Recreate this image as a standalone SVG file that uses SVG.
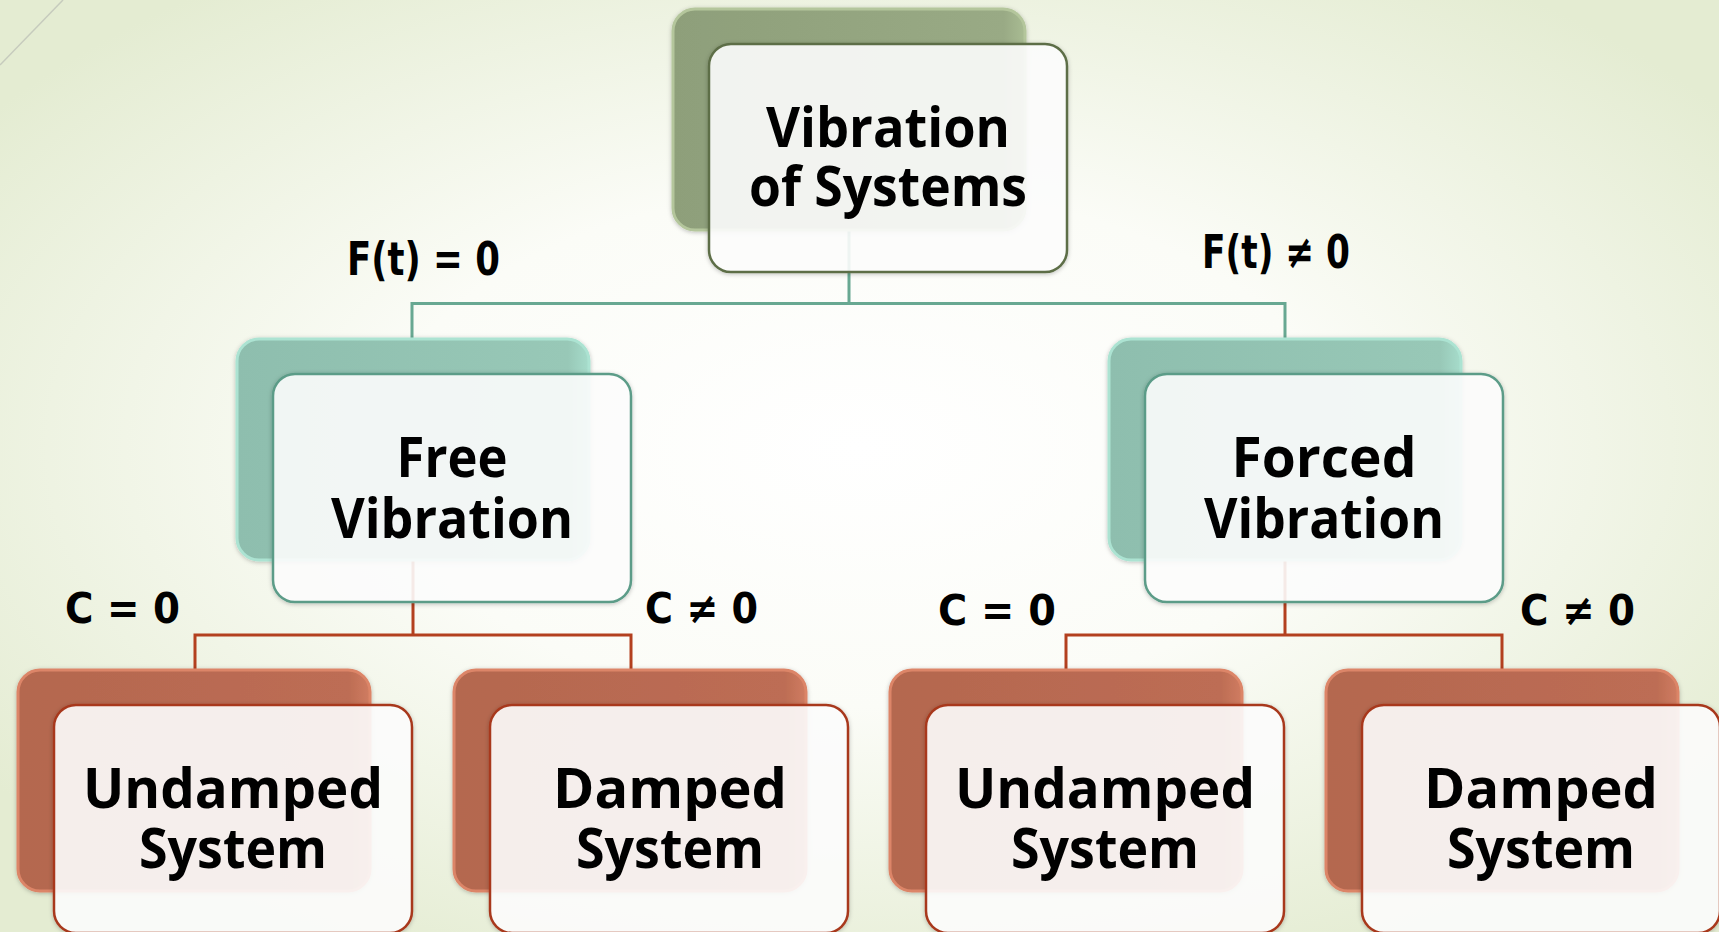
<svg xmlns="http://www.w3.org/2000/svg" width="1719" height="932" viewBox="0 0 1719 932">
<defs>
  <radialGradient id="bg" cx="50%" cy="48%" r="62%">
    <stop offset="0" stop-color="#ffffff"/>
    <stop offset="0.45" stop-color="#fbfcf7"/>
    <stop offset="1" stop-color="#e4ecd2"/>
  </radialGradient>
  <linearGradient id="gOlive" x1="0" y1="0" x2="1" y2="0">
    <stop offset="0" stop-color="#8e9f7a"/>
    <stop offset="0.94" stop-color="#99aa85"/>
    <stop offset="1" stop-color="#a9bc93"/>
  </linearGradient>
  <linearGradient id="gTeal" x1="0" y1="0" x2="1" y2="0">
    <stop offset="0" stop-color="#8ebeae"/>
    <stop offset="0.94" stop-color="#98c8b7"/>
    <stop offset="1" stop-color="#a6dccb"/>
  </linearGradient>
  <linearGradient id="gRed" x1="0" y1="0" x2="1" y2="0">
    <stop offset="0" stop-color="#b4674f"/>
    <stop offset="0.94" stop-color="#bd6d54"/>
    <stop offset="1" stop-color="#d07c61"/>
  </linearGradient>
  <filter id="sh" x="-10%" y="-10%" width="120%" height="120%">
    <feDropShadow dx="0" dy="1" stdDeviation="2" flood-color="#000" flood-opacity="0.25"/>
  </filter>
</defs>
<style>
  .back { filter: url(#sh); stroke-width: 3; }
  .olive .back { fill: url(#gOlive); stroke: #b4c69c; }
  .teal .back { fill: url(#gTeal); stroke: #ace3d2; }
  .red .back { fill: url(#gRed); stroke: #dc8568; }
  .front { fill: #ffffff; fill-opacity: 0.88; stroke-width: 2.5; filter: url(#sh); }
  .olive .front { stroke: #5d6e47; }
  .teal .front { stroke: #5c9c88; }
  .red .front { stroke: #a8391d; }
  .t { font-family: "Open Sans", "DejaVu Sans", sans-serif; font-weight: 700; font-size: 55px; fill: #000; text-anchor: middle; }
  .lbl { font-family: "DejaVu Sans", sans-serif; font-weight: 700; fill: #000; }
  .f { font-size: 47px; }
  .c { font-size: 43px; }
  .cg { fill: none; stroke: #68a892; stroke-width: 3; }
  .cr { fill: none; stroke: #b3401f; stroke-width: 3; }
</style>
<rect x="0" y="0" width="1719" height="932" fill="url(#bg)"/>
<line x1="0" y1="65" x2="63" y2="0" stroke="#c6cbbd" stroke-width="1.5"/>

<g id="connectors">
  <path class="cg" d="M849 230 V303.5 M412 339 V303.5 H1285 V339"/>
  <path class="cr" d="M413 560 V635 M195 670 V635 H631 V670"/>
  <path class="cr" d="M1285 560 V635 M1066 670 V635 H1502 V670"/>
</g>

<g id="node-vibration-of-systems" class="olive">
  <rect class="back" x="673" y="9" width="352" height="221" rx="22"/>
  <rect class="front" x="709" y="44" width="358" height="228" rx="22"/>
  <text class="t" x="888" y="147" textLength="244" lengthAdjust="spacingAndGlyphs">Vibration</text>
  <text class="t" x="888" y="206" textLength="278" lengthAdjust="spacingAndGlyphs">of Systems</text>
</g>

<g id="node-free-vibration" class="teal">
  <rect class="back" x="237" y="339" width="352" height="221" rx="22"/>
  <rect class="front" x="273" y="374" width="358" height="228" rx="22"/>
  <text class="t" x="452" y="477" textLength="111" lengthAdjust="spacingAndGlyphs">Free</text>
  <text class="t" x="452" y="538" textLength="242" lengthAdjust="spacingAndGlyphs">Vibration</text>
</g>

<g id="node-forced-vibration" class="teal">
  <rect class="back" x="1109" y="339" width="352" height="221" rx="22"/>
  <rect class="front" x="1145" y="374" width="358" height="228" rx="22"/>
  <text class="t" x="1324" y="477" textLength="185" lengthAdjust="spacingAndGlyphs">Forced</text>
  <text class="t" x="1324" y="538" textLength="240" lengthAdjust="spacingAndGlyphs">Vibration</text>
</g>

<g id="node-free-undamped" class="red">
  <rect class="back" x="18" y="670" width="352" height="221" rx="22"/>
  <rect class="front" x="54" y="705" width="358" height="228" rx="22"/>
  <text class="t" x="233" y="808" textLength="300" lengthAdjust="spacingAndGlyphs">Undamped</text>
  <text class="t" x="233" y="868" textLength="188" lengthAdjust="spacingAndGlyphs">System</text>
</g>

<g id="node-free-damped" class="red">
  <rect class="back" x="454" y="670" width="352" height="221" rx="22"/>
  <rect class="front" x="490" y="705" width="358" height="228" rx="22"/>
  <text class="t" x="670" y="808" textLength="234" lengthAdjust="spacingAndGlyphs">Damped</text>
  <text class="t" x="670" y="868" textLength="188" lengthAdjust="spacingAndGlyphs">System</text>
</g>

<g id="node-forced-undamped" class="red">
  <rect class="back" x="890" y="670" width="352" height="221" rx="22"/>
  <rect class="front" x="926" y="705" width="358" height="228" rx="22"/>
  <text class="t" x="1105" y="808" textLength="300" lengthAdjust="spacingAndGlyphs">Undamped</text>
  <text class="t" x="1105" y="868" textLength="188" lengthAdjust="spacingAndGlyphs">System</text>
</g>

<g id="node-forced-damped" class="red">
  <rect class="back" x="1326" y="670" width="352" height="221" rx="22"/>
  <rect class="front" x="1362" y="705" width="358" height="228" rx="22"/>
  <text class="t" x="1541" y="808" textLength="234" lengthAdjust="spacingAndGlyphs">Damped</text>
  <text class="t" x="1541" y="868" textLength="188" lengthAdjust="spacingAndGlyphs">System</text>
</g>

<g id="labels">
  <text class="lbl f" x="347" y="275" textLength="153" lengthAdjust="spacingAndGlyphs">F(t) = 0</text>
  <text class="lbl f" x="1202" y="268" textLength="148" lengthAdjust="spacingAndGlyphs">F(t) ≠ 0</text>
  <text class="lbl c" x="65" y="623" textLength="115" lengthAdjust="spacingAndGlyphs">C = 0</text>
  <text class="lbl c" x="645" y="623" textLength="113" lengthAdjust="spacingAndGlyphs">C ≠ 0</text>
  <text class="lbl c" x="938" y="625" textLength="118" lengthAdjust="spacingAndGlyphs">C = 0</text>
  <text class="lbl c" x="1520" y="625" textLength="115" lengthAdjust="spacingAndGlyphs">C ≠ 0</text>
</g>
</svg>
